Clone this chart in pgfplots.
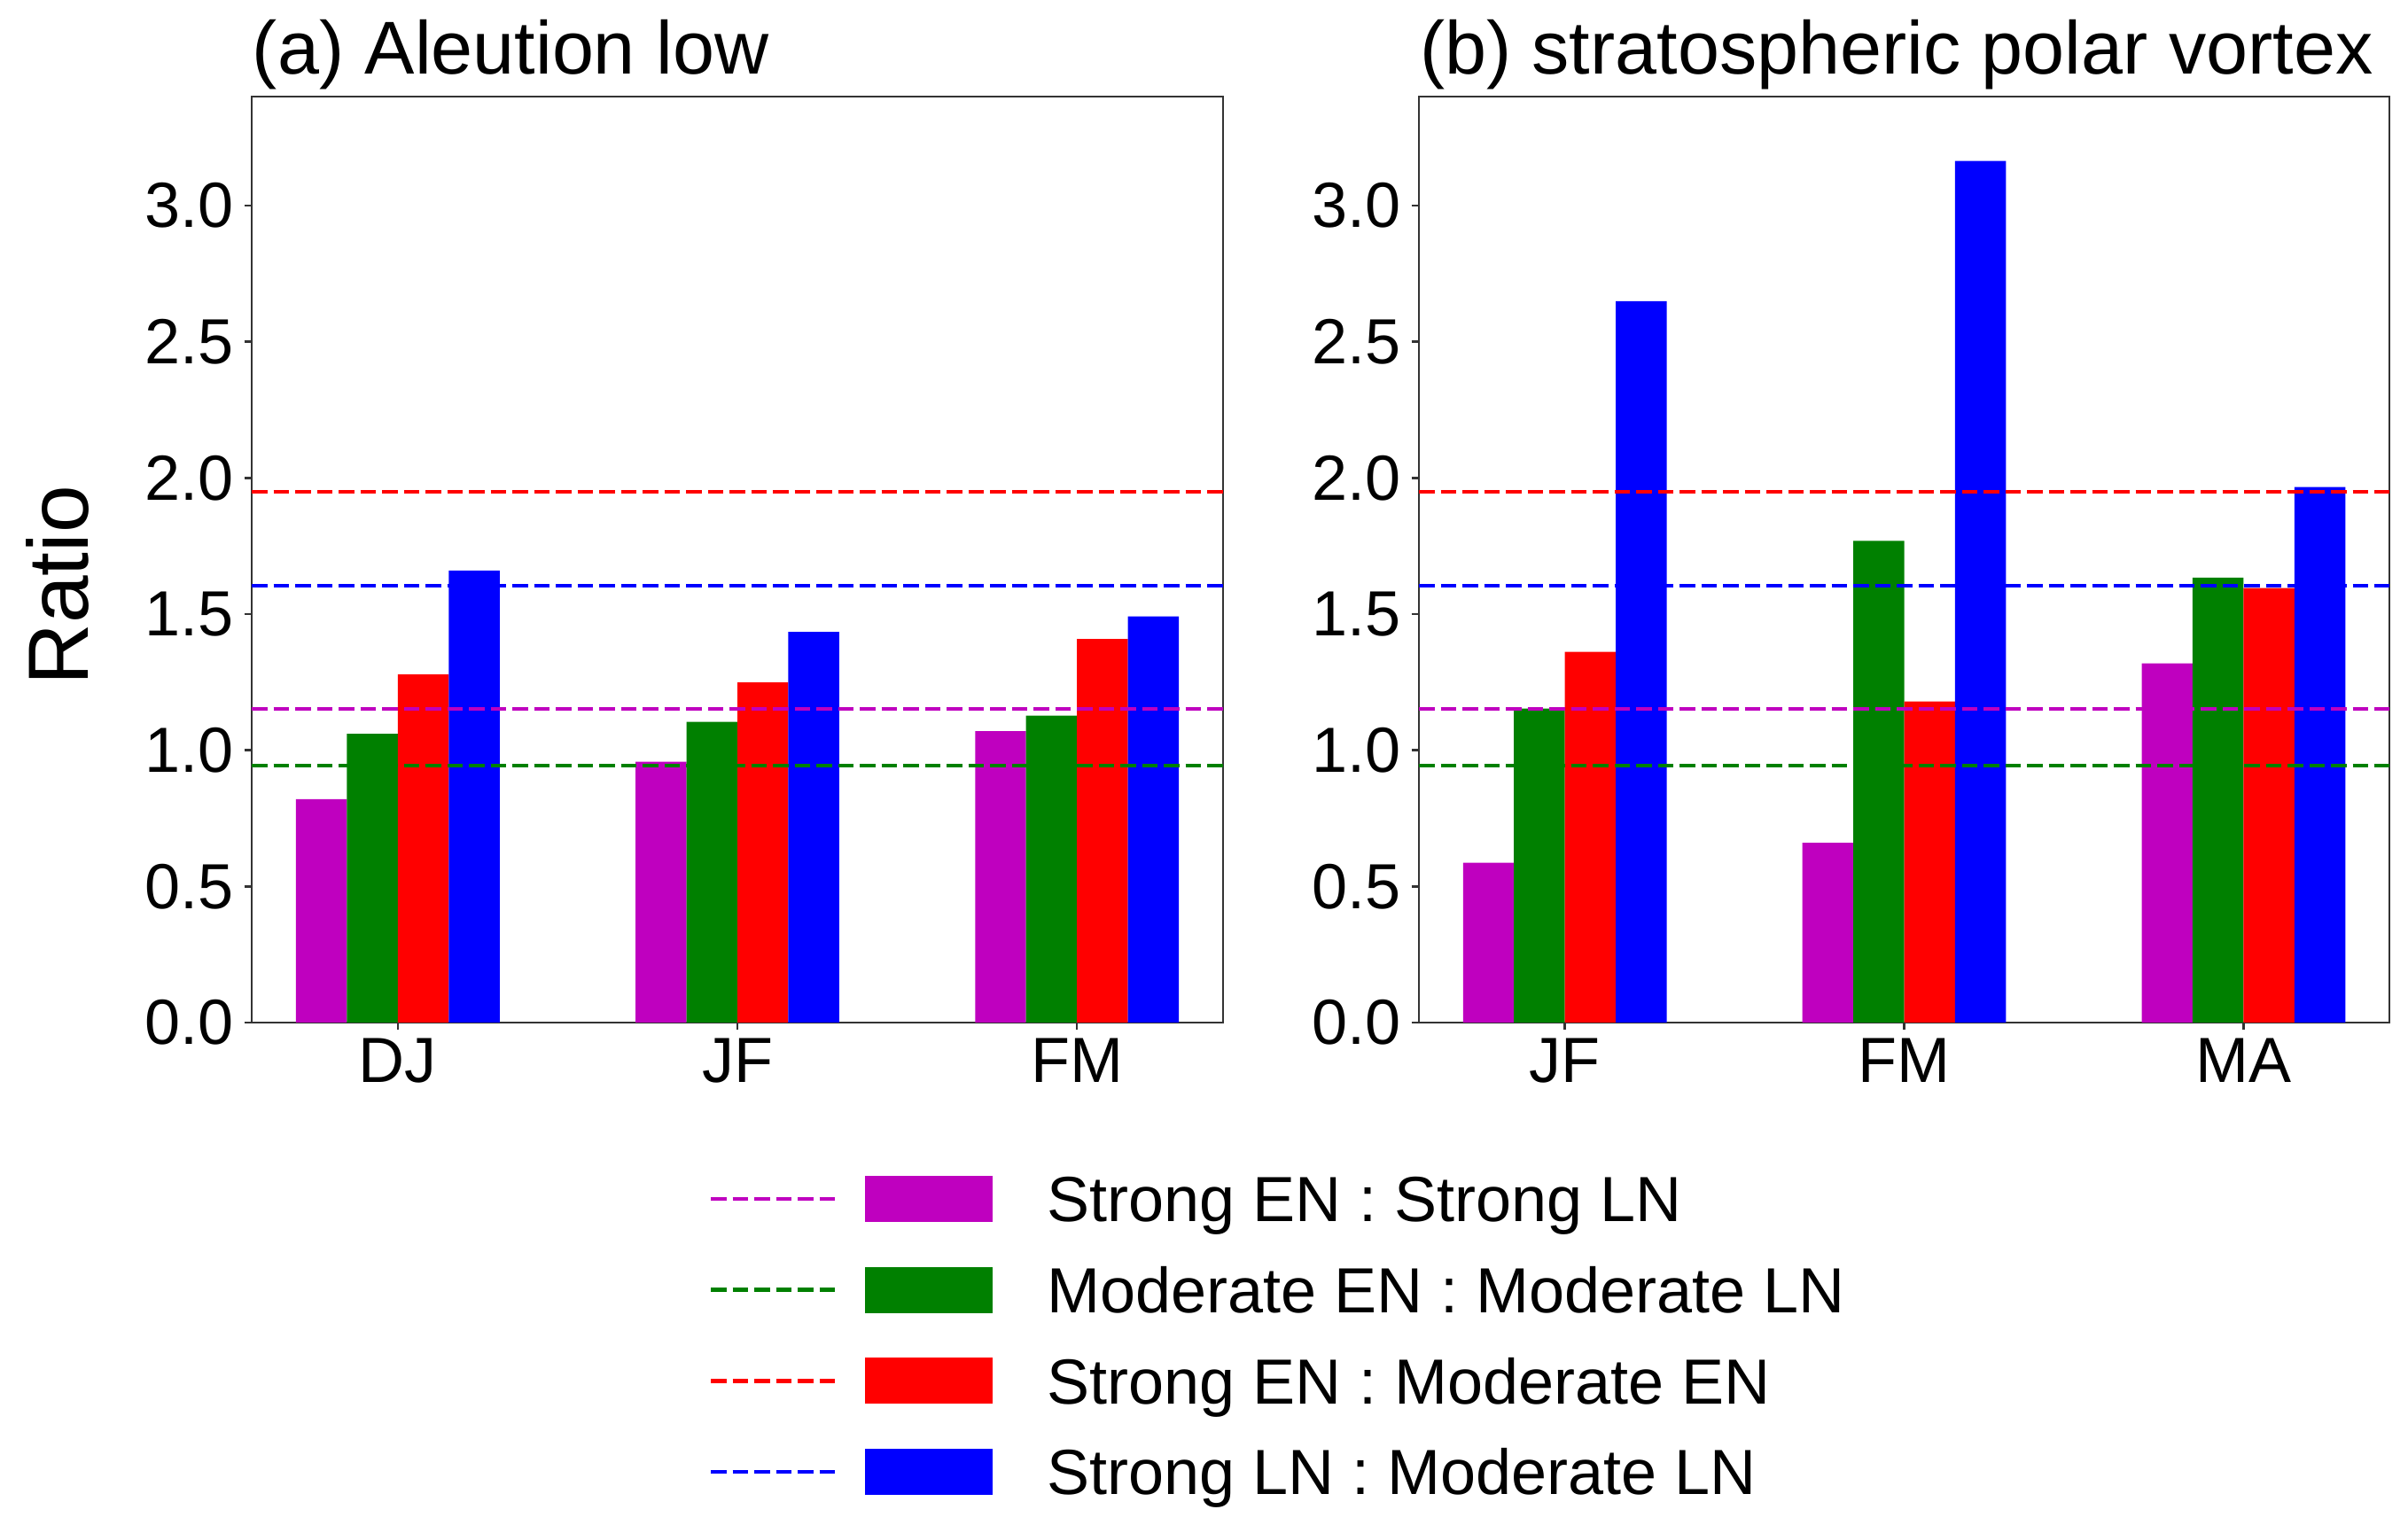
\documentclass[border=0pt]{standalone}
\usepackage{fontspec}
\setmainfont{Liberation Sans}
\setsansfont{Liberation Sans}
\usepackage{pgfplots}
\pgfplotsset{compat=1.18}
\definecolor{mmag}{rgb}{0.75,0,0.75}
\definecolor{mgreen}{rgb}{0,0.5,0}
\definecolor{mred}{rgb}{1,0,0}
\definecolor{mblue}{rgb}{0,0,1}
\pgfplotsset{
  panel/.style={
    scale only axis, height=209pt,
    xmin=-0.43, xmax=2.43, ymin=0, ymax=3.4,
    xtick={0,1,2}, ytick={0,0.5,1,1.5,2,2.5,3},
    tick align=outside, tick pos=left,
    major tick length=1.7pt,
    axis line style={line width=0.5pt, black!80},
    every tick/.style={line width=0.5pt, black!80},
    /pgf/number format/assume math mode=true,
    yticklabel style={/pgf/number format/fixed, /pgf/number format/fixed zerofill, /pgf/number format/precision=1},
    tick label style={font=\fontsize{14.4}{17}\selectfont},
    yticklabel style={inner sep=0pt, xshift=-2.1pt},
    xticklabel style={inner sep=0pt, yshift=-1.7pt},
    title style={at={(axis description cs:0,1)}, anchor=base west, yshift=-1.0pt, inner sep=0pt, font=\fontsize{16.9}{20}\selectfont},
    clip=false,
  },
  bstyle/.style={ybar, bar width=0.15, draw=none, fill=#1, forget plot},
  lstyle/.style={#1, line width=0.8pt, dash pattern=on 3.5pt off 1.4pt, forget plot},
  mylegend/.style={legend image code/.code={
    \draw[draw=#1, line width=0.9pt, dash pattern=on 3.5pt off 1.4pt] (0pt,0pt) -- (28.2pt,0pt);
    \fill[fill=#1, draw=none] (34.8pt,-5.2pt) rectangle (63.6pt,5.2pt);
    \path (75.6pt,0pt);
  }},
}
\begin{document}
\begin{tikzpicture}
\path (0pt,0pt) rectangle (543.4pt,344.2pt);
\begin{axis}[panel, at={(56.8pt,113.4pt)}, anchor=south west, width=219.2pt,
  xticklabels={DJ,JF,FM},
  title={(a) Aleution low},
  ylabel={Ratio},
  every axis y label/.style={at={(axis description cs:-0.200,0.472)}, rotate=90, anchor=center, inner sep=0pt, font=\fontsize{19.3}{22}\selectfont},
  legend style={at={(axis description cs:0.4708,-0.3378)}, anchor=west, draw=none, fill=none, inner sep=0pt, outer sep=0pt,
    font=\fontsize{14.4}{17}\selectfont, row sep=10.15pt,
    nodes={inner sep=0pt, text height=10.3pt, text depth=0pt}},
  legend cell align=left,
]
\addplot[bstyle=mmag, bar shift=-0.225] coordinates {(0,0.82) (1,0.958) (2,1.07)};
\addplot[bstyle=mgreen, bar shift=-0.075] coordinates {(0,1.06) (1,1.104) (2,1.127)};
\addplot[bstyle=mred, bar shift=0.075] coordinates {(0,1.278) (1,1.249) (2,1.408)};
\addplot[bstyle=mblue, bar shift=0.225] coordinates {(0,1.66) (1,1.434) (2,1.491)};
\addplot[lstyle=mred] coordinates {(-0.43,1.948) (2.43,1.948)};
\addplot[lstyle=mblue] coordinates {(-0.43,1.605) (2.43,1.605)};
\addplot[lstyle=mmag] coordinates {(-0.43,1.153) (2.43,1.153)};
\addplot[lstyle=mgreen] coordinates {(-0.43,0.945) (2.43,0.945)};
\addlegendimage{mylegend=mmag}
\addlegendentry{Strong EN : Strong LN}
\addlegendimage{mylegend=mgreen}
\addlegendentry{Moderate EN : Moderate LN}
\addlegendimage{mylegend=mred}
\addlegendentry{Strong EN : Moderate EN}
\addlegendimage{mylegend=mblue}
\addlegendentry{Strong LN : Moderate LN}
\end{axis}
\begin{axis}[panel, at={(320.2pt,113.4pt)}, anchor=south west, width=219pt,
  xticklabels={JF,FM,MA},
  title={(b) stratospheric polar vortex},
]
\addplot[bstyle=mmag, bar shift=-0.225] coordinates {(0,0.587) (1,0.66) (2,1.319)};
\addplot[bstyle=mgreen, bar shift=-0.075] coordinates {(0,1.153) (1,1.769) (2,1.634)};
\addplot[bstyle=mred, bar shift=0.075] coordinates {(0,1.361) (1,1.179) (2,1.595)};
\addplot[bstyle=mblue, bar shift=0.225] coordinates {(0,2.649) (1,3.164) (2,1.966)};
\addplot[lstyle=mred] coordinates {(-0.43,1.948) (2.43,1.948)};
\addplot[lstyle=mblue] coordinates {(-0.43,1.605) (2.43,1.605)};
\addplot[lstyle=mmag] coordinates {(-0.43,1.153) (2.43,1.153)};
\addplot[lstyle=mgreen] coordinates {(-0.43,0.945) (2.43,0.945)};
\end{axis}
\end{tikzpicture}
\end{document}
